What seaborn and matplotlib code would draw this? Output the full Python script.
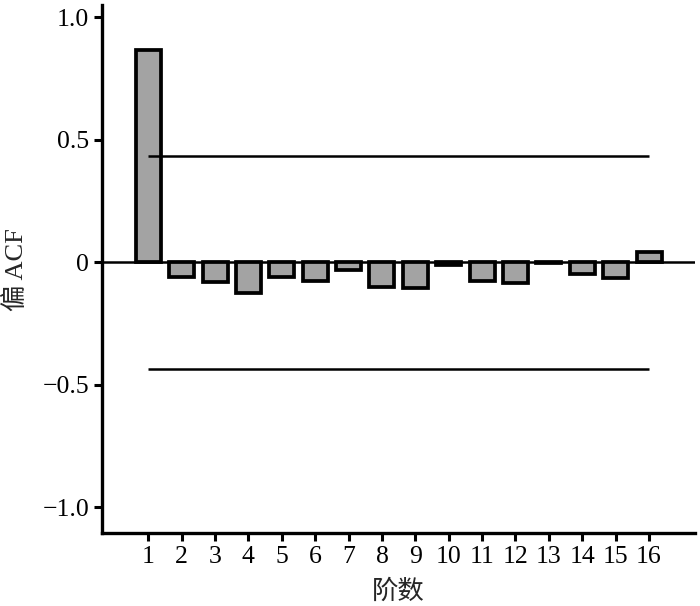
import numpy as np
import pandas as pd
import matplotlib
matplotlib.use("Agg")
import matplotlib.pyplot as plt
import seaborn as sns

# lag orders and partial ACF values
lags = list(range(1, 17))
pacf = [0.865, -0.06, -0.08, -0.125, -0.06, -0.075, -0.03, -0.10,
        -0.105, -0.01, -0.075, -0.085, -0.005, -0.05, -0.065, 0.04]
conf_limit = 0.435
y_ticks = [-1.0, -0.5, 0, 0.5, 1.0]
y_tick_labels = ["\u22121.0", "\u22120.5", "0", "0.5", "1.0"]

sns.set_style("white")
plt.rcParams["font.family"] = ["Liberation Serif", "Noto Sans CJK SC"]

df = pd.DataFrame({"lag": lags, "pacf": pacf})

fig = plt.figure(figsize=(7.0, 6.06), dpi=100)
ax = fig.add_axes([0.146, 0.12, 0.847, 0.872])

sns.barplot(data=df, x="lag", y="pacf", order=lags, color="#a3a3a3",
            saturation=1, width=0.75, edgecolor="black", linewidth=2.7, ax=ax)

# zero line and confidence limits
ax.axhline(0, color="black", lw=1.8, zorder=0.5)
ax.hlines([conf_limit, -conf_limit], 0, len(lags) - 1, color="black", lw=1.8)

ax.set_xlim(-1.38, len(lags) + 0.38)
ax.set_ylim(-1.106, 1.05)
ax.set_yticks(y_ticks)
ax.set_yticklabels(y_tick_labels)

for side in ["top", "right"]:
    ax.spines[side].set_visible(False)
for side in ["left", "bottom"]:
    ax.spines[side].set_linewidth(2.4)
    ax.spines[side].set_color("black")

ax.tick_params(axis="both", direction="out", length=6, width=2.2,
               colors="black", labelsize=18.5, left=True, bottom=True)
ax.set_xlabel("阶数", fontsize=19, labelpad=8)
ax.set_ylabel("偏 ACF", fontsize=19, labelpad=10)

fig.savefig("out.png", dpi=100)
